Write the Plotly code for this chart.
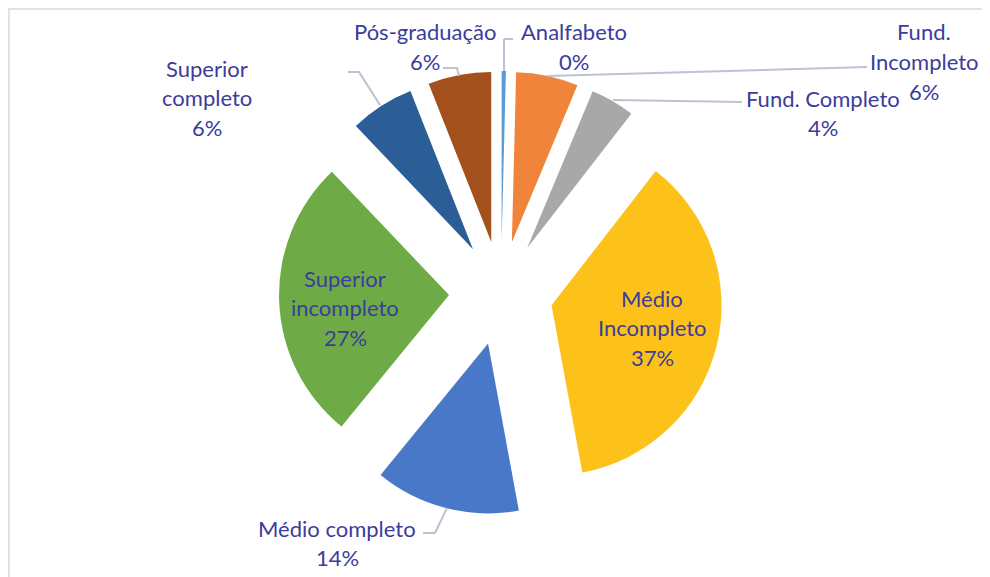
import plotly.graph_objects as go

# escolaridade - valores em %
labels = ["Analfabeto", "Fund. Incompleto", "Fund. Completo", "Médio Incompleto",
          "Médio completo", "Superior incompleto", "Superior completo", "Pós-graduação"]
values = [0.4, 5.9, 4.2, 36.6, 13.8, 27.0, 6.1, 6.0]
colors = ["#5B9BD5", "#F0843A", "#A8A8A8", "#FCC21A",
          "#4A78C9", "#6EAB46", "#2B5E96", "#A4501C"]

# linhas de cada rotulo (o % entra como ultima linha)
label_lines = [["Analfabeto"], ["Fund.", "Incompleto"], ["Fund. Completo"], ["Médio", "Incompleto"],
               ["Médio completo"], ["Superior", "incompleto"], ["Superior", "completo"], ["Pós-graduação"]]
# centro x e y da primeira linha de cada rotulo, em pixels da tela
label_pos = [(574, 32), (924, 32), (823, 98), (652, 298),
             (337, 528), (345, 278), (207, 68), (425, 32)]
LINE_STEP = 29.5

W, H = 990, 577
OFF = 8  # margem do body da pagina
TEXT = "#3C3C9C"
LINE = "#B9C3D1"


def px(x, y):
    return (x - OFF) / W, 1 - (y - OFF) / H


# caixa da pizza: centro (501, 293), raio 170, pull 0.306
cx, cy, half = 501, 293, 222
xa, ya = px(cx - half, cy + half)
xb, yb = px(cx + half, cy - half)
fig = go.Figure(go.Pie(
    labels=labels,
    values=values,
    sort=False,
    direction="clockwise",
    rotation=0,
    pull=0.306,
    textinfo="none",
    hoverinfo="label+percent",
    marker=dict(colors=colors, line=dict(width=0)),
    domain=dict(x=[xa, xb], y=[ya, yb]),
    showlegend=False,
))

total = sum(values)
for lines, (lx, ly), v in zip(label_lines, label_pos, values):
    rows = lines + [f"{round(v / total * 100):.0f}%"]
    for i, row in enumerate(rows):
        x, y = px(lx, ly + i * LINE_STEP)
        fig.add_annotation(
            x=x, y=y, xref="paper", yref="paper",
            text=row, showarrow=False, xanchor="center", yanchor="middle",
            font=dict(family="Lato, Calibri, sans-serif", size=22, color=TEXT),
        )

# linhas de chamada
leaders = [
    [(504, 39), (513, 39)],
    [(504, 39), (504, 71)],
    [(547, 76), (867, 67)],
    [(613, 100), (742, 102)],
    [(443, 68), (457, 68), (459, 76)],
    [(348, 72), (359, 72), (380, 105)],
    [(423, 533), (435, 533), (447, 508)],
]
for pts in leaders:
    path = "M " + " L ".join(f"{px(a, b)[0]} {px(a, b)[1]}" for a, b in pts)
    fig.add_shape(type="path", path=path, xref="paper", yref="paper",
                  line=dict(color=LINE, width=2))

# borda da area do grafico
x0, y1 = px(9, 9)
fig.add_shape(type="rect", x0=x0, y0=-0.05, x1=1.05, y1=y1, xref="paper", yref="paper",
              line=dict(color="#DDE1E8", width=2))

fig.update_layout(
    width=W, height=H,
    margin=dict(l=0, r=0, t=0, b=0),
    paper_bgcolor="white",
    plot_bgcolor="white",
)

fig.write_html("out.html")
